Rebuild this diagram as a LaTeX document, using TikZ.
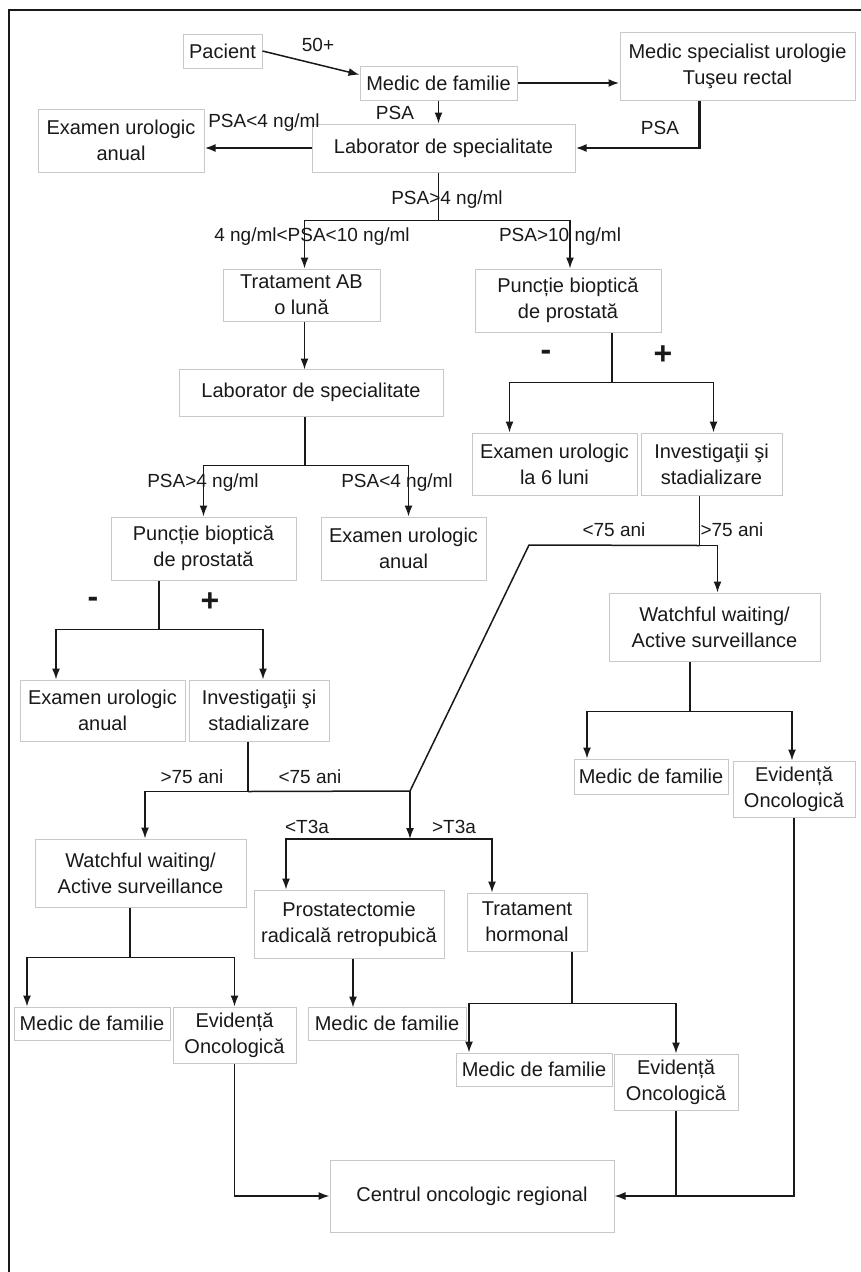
\documentclass[tikz,border=0pt]{standalone}
\usepackage{fontspec}
\setmainfont{Liberation Sans}
\usetikzlibrary{arrows.meta}
\definecolor{boxgray}{RGB}{200,200,200}
\definecolor{ink}{RGB}{25,25,25}
\begin{document}
\begin{tikzpicture}[x=1pt,y=-1pt,
  box/.style={draw=boxgray, line width=1pt, align=center, inner sep=0pt,
    font=\fontsize{20}{26}\selectfont, text=ink},
  sz/.style 2 args={minimum width=#1pt, minimum height=#2pt},
  conn/.style={draw=ink, line width=1.5pt},
  arr/.style={conn, -{Latex[length=11pt,width=8pt]}},
  thk/.style={line width=2.2pt},
  lbl/.style={font=\fontsize{19}{22}\selectfont, text=ink, inner sep=0pt},
  sgn/.style={font=\fontsize{32}{32}\selectfont\bfseries, text=ink, inner sep=0pt}]
\useasboundingbox (0,0) rectangle (860,1272);
\draw[ink, line width=2.5pt] (9,1280) -- (9,10) -- (870,10);

% boxes
\node[box, sz={79}{34}]   (pac)   at (222.5,51)  {Pacient};
\node[box, sz={157}{34}]  (mf1)   at (438.5,83)  {Medic de familie};
\node[box, sz={235}{68}]  (spec)  at (737.5,66)  {Medic specialist urologie\\Tuşeu rectal};
\node[box, sz={166}{63}]  (ex1)   at (121,140.5) {Examen urologic\\anual};
\node[box, sz={263}{48}]  (lab1)  at (443.5,148) {Laborator de specialitate};
\node[box, sz={157}{52}]  (trab)  at (301.5,295) {Tratament AB\\o lună};
\node[box, sz={186}{63}]  (punc1) at (568,300.5) {Puncție bioptică\\de prostată};
\node[box, sz={264}{47}]  (lab2)  at (311,392.5) {Laborator de specialitate};
\node[box, sz={165}{62}]  (ex6)   at (554.5,464) {Examen urologic\\la 6 luni};
\node[box, sz={141}{62}]  (inv1)  at (711.5,464) {Investigaţii şi\\stadializare};
\node[box, sz={185}{63}]  (punc2) at (203.5,548.5) {Puncție bioptică\\de prostată};
\node[box, sz={165}{63}]  (ex2)   at (403.5,548.5) {Examen urologic\\anual};
\node[box, sz={211}{68}]  (ww1)   at (714.5,627) {Watchful waiting/\\Active surveillance};
\node[box, sz={165}{61}]  (ex3)   at (102.5,710.5) {Examen urologic\\anual};
\node[box, sz={140}{61}]  (inv2)  at (259,710.5) {Investigaţii şi\\stadializare};
\node[box, sz={154}{35}]  (mf2)   at (651,776.5) {Medic de familie};
\node[box, sz={122}{56}]  (ev1)   at (794,789)   {Evidență\\Oncologică};
\node[box, sz={211}{68}]  (ww2)   at (140.5,873) {Watchful waiting/\\Active surveillance};
\node[box, sz={190}{68}]  (prost) at (349,924)   {Prostatectomie\\radicală retropubică};
\node[box, sz={120}{58}]  (th)    at (527,922)   {Tratament\\hormonal};
\node[box, sz={156}{33}]  (mf3)   at (92,1023.5) {Medic de familie};
\node[box, sz={123}{56}]  (ev2)   at (234.5,1035) {Evidență\\Oncologică};
\node[box, sz={158}{33}]  (mf4)   at (387,1023.5) {Medic de familie};
\node[box, sz={156}{33}]  (mf5)   at (534,1069.5) {Medic de familie};
\node[box, sz={124}{56}]  (ev3)   at (676,1082)  {Evidență\\Oncologică};
\node[box, sz={284}{72}]  (cen)   at (472,1196)  {Centrul oncologic regional};

% labels
\node[lbl] (l50)  at (318,45)  {50+};
\node[lbl] (lp1)  at (395,113) {PSA};
\node[lbl] (lp2)  at (660,128) {PSA};
\node[lbl] (lp3)  at (264,123) {PSA<4 ng/ml};
\node[lbl] (lp4)  at (447,200) {PSA>4 ng/ml};
\node[lbl] (lp5)  at (312,237) {4 ng/ml<PSA<10 ng/ml};
\node[lbl] (lp6)  at (560,237) {PSA>10 ng/ml};
\node[sgn] (sm1)  at (546,355) {-};
\node[sgn] (sp1)  at (663,355) {+};
\node[lbl] (lp7)  at (203,483) {PSA>4 ng/ml};
\node[lbl] (lp8)  at (397,483) {PSA<4 ng/ml};
\node[lbl] (la1)  at (614,530) {<75 ani};
\node[lbl] (la2)  at (732,530) {>75 ani};
\node[sgn] (sm2)  at (93,602)  {-};
\node[sgn] (sp2)  at (210,602) {+};
\node[lbl] (la3)  at (192,777) {>75 ani};
\node[lbl] (la4)  at (310,777) {<75 ani};
\node[lbl] (lt1)  at (307,827) {<T3a};
\node[lbl] (lt2)  at (454,827) {>T3a};

% connectors
\draw[arr] (pac.east) -- (mf1.174);
\draw[arr,thk] (mf1.east) -- (mf1.east -| spec.west);
\draw[arr] (mf1.south) -- (mf1.south |- lab1.north);
\draw[arr,thk] ([xshift=-38pt]spec.south) |- (lab1.east);
\draw[arr,thk] (lab1.west) -- (lab1.west -| ex1.east);

\draw[conn] ([xshift=-5pt]lab1.south) -- ++(0,48) coordinate (j1);
\draw[arr] (j1) -| ([xshift=3pt]trab.north);
\draw[arr] (j1) -| ([xshift=2pt]punc1.north);

\draw[arr] ([xshift=3pt]trab.south) -- ++(0,48);

\draw[conn] ([xshift=44pt]punc1.south) -- ++(0,50) coordinate (j2);
\draw[arr] (j2) -| ([xshift=-45pt]ex6.north);
\draw[arr] (j2) -| ([xshift=2pt]inv1.north);

\draw[conn] ([xshift=-6pt]lab2.south) -- ++(0,49) coordinate (j3);
\draw[arr] (j3) -| (punc2.north);
\draw[arr] (j3) -| ([xshift=5pt]ex2.north);

\draw[conn] ([xshift=-12pt]inv1.south) -- ++(0,50) coordinate (j4);
\draw[arr] (j4) -| ([xshift=3pt]ww1.north);
\coordinate (j5) at (529,545);
\coordinate (j7) at (410,791);
\draw[conn] (j4) -- (j5) -- (j7);

\draw[conn] ([xshift=-44.5pt]punc2.south) -- ++(0,49) coordinate (j6);
\draw[arr] (j6) -| ([xshift=-46.5pt]ex3.north);
\draw[arr] (j6) -| ([xshift=4pt]inv2.north);

\draw[conn] ([xshift=-11pt]inv2.south) -- ++(0,50) coordinate (j8);
\draw[arr] (j8) -| ([xshift=4.5pt]ww2.north);
\draw[conn] (j8) -- (j7);
\draw[arr] (j7) -- ++(0,48) coordinate (j9);
\draw[arr] (j9) -| ([xshift=-63pt]prost.north);
\draw[arr] (j9) -| ([xshift=-35pt]th.north);

\draw[conn] ([xshift=-24.5pt]ww1.south) -- ++(0,50) coordinate (j10);
\draw[arr] (j10) -| ([xshift=-64pt]mf2.north);
\draw[arr] (j10) -| ([xshift=-2pt]ev1.north);
\draw[arr] (ev1.south) |- (cen.east);

\draw[conn] ([xshift=-10.5pt]ww2.south) -- ++(0,50) coordinate (j11);
\draw[arr] (j11) -| ([xshift=-65pt]mf3.north);
\draw[arr] (j11) -| (ev2.north);

\draw[arr] ([xshift=4pt]prost.south) -- ++(0,49);

\draw[conn] ([xshift=45pt]th.south) -- ++(0,52) coordinate (j12);
\draw[arr] (j12) -| ([xshift=-65pt]mf5.north);
\draw[arr] (j12) -| (ev3.north);

\draw[arr] (ev2.south) |- (cen.west);
\draw[conn] (ev3.south) -- (ev3.south |- cen.east);
\end{tikzpicture}
\end{document}
